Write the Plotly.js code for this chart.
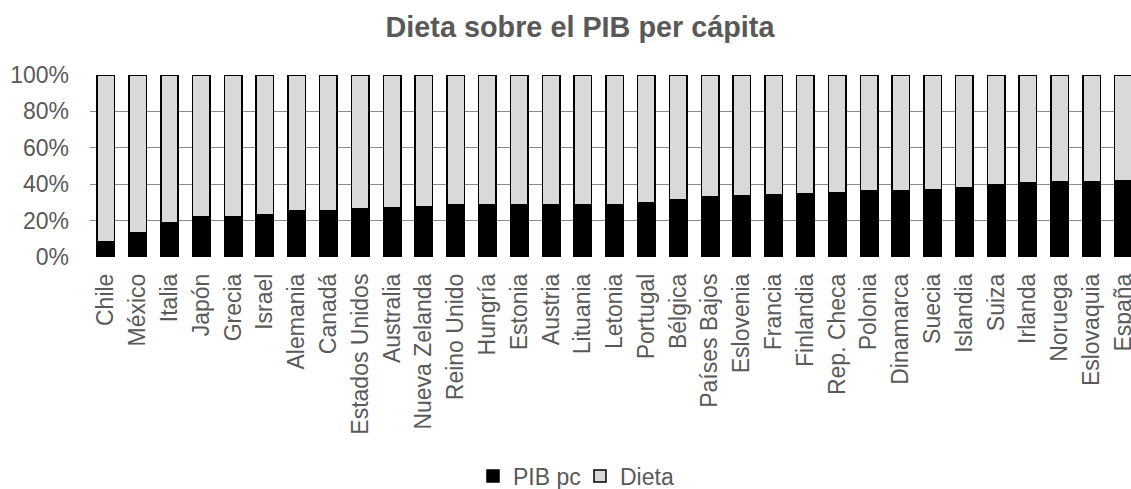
<!DOCTYPE html>
<html>
<head>
<meta charset="utf-8">
<script src="https://cdn.plot.ly/plotly-3.0.1.min.js"></script>
<style>html,body{margin:0;padding:0;background:#fff;}#chart{width:1131px;height:489px;}</style>
</head>
<body>
<div id="chart"></div>
<script>
const countries = ["Chile","México","Italia","Japón","Grecia","Israel","Alemania","Canadá","Estados Unidos","Australia","Nueva Zelanda","Reino Unido","Hungría","Estonia","Austria","Lituania","Letonia","Portugal","Bélgica","Países Bajos","Eslovenia","Francia","Finlandia","Rep. Checa","Polonia","Dinamarca","Suecia","Islandia","Suiza","Irlanda","Noruega","Eslovaquia","España"];
const pibPc = [8.6,13.2,19.0,22.0,22.0,23.4,25.4,25.6,26.7,27.3,27.7,28.8,28.9,28.9,28.9,28.9,28.9,29.7,31.3,33.0,33.7,34.4,34.8,35.5,36.3,36.6,37.2,37.9,39.7,40.7,41.2,41.4,41.8];
const dieta = [91.4,86.8,81.0,78.0,78.0,76.6,74.6,74.4,73.3,72.7,72.3,71.2,71.1,71.1,71.1,71.1,71.1,70.3,68.7,67.0,66.3,65.6,65.2,64.5,63.7,63.4,62.8,62.1,60.3,59.3,58.8,58.6,58.2];
const yTicks = [0,20,40,60,80,100];
const yTickText = ["0%","20%","40%","60%","80%","100%"];

const txt = '#595959';
const font = {family: 'Liberation Sans, Arial, sans-serif', size: 23, color: txt};

const traces = [
  {type:'bar', name:'PIB pc', x:countries, y:pibPc,
   marker:{color:'#000000', line:{color:'#000000', width:1.5}}},
  {type:'bar', name:'Dieta', x:countries, y:dieta,
   marker:{color:'#d9d9d9', line:{color:'#000000', width:1.5}}}
];

const layout = {
  width:1131, height:489,
  paper_bgcolor:'#fff', plot_bgcolor:'#fff',
  barmode:'stack', bargap:0.45,
  margin:{l:90, r:0, t:75, b:232, autoexpand:false},
  font: font,
  title:{text:'<b>Dieta sobre el PIB per cápita</b>', font:{family:'Liberation Sans, Arial, sans-serif', size:28.8, color:txt},
         xref:'container', x:580/1131, xanchor:'center', yref:'container', y:1-27/489, yanchor:'middle'},
  xaxis:{type:'category', range:[-0.5, 32.24], tickangle:-90, tickfont:font,
         showgrid:false, zeroline:false, showline:false, ticks:'', ticklabelstandoff:11, automargin:false, fixedrange:true},
  yaxis:{range:[0,100], tickvals:yTicks, ticktext:yTickText, tickfont:font,
         showgrid:true, gridcolor:'#8c8c8c', gridwidth:1, zeroline:false, showline:false, ticks:'',
         ticklabelstandoff:20, automargin:false, fixedrange:true},
  showlegend:true,
  legend:{orientation:'h', xref:'paper', x:(473-90)/1041, xanchor:'left', yref:'container', y:(489-476)/489, yanchor:'middle',
          font:font, itemwidth:30, entrywidth:62, traceorder:'normal', bgcolor:'rgba(0,0,0,0)'}
};

Plotly.newPlot('chart', traces, layout, {staticPlot:true, displayModeBar:false});
</script>
</body>
</html>
